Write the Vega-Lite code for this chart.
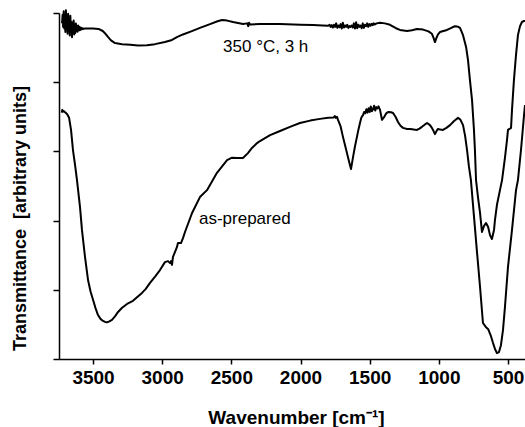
{
  "$schema": "https://vega.github.io/schema/vega-lite/v6.json",
  "width": 466,
  "height": 346,
  "autosize": {"type": "none"},
  "padding": {"left": 59, "top": 13, "right": 0, "bottom": 68},
  "background": "white",
  "config": {
    "view": {"stroke": null},
    "font": "Liberation Sans",
    "axis": {
      "domainColor": "black",
      "domainWidth": 1.5,
      "tickColor": "black",
      "tickWidth": 1.5,
      "grid": false,
      "labelFont": "Liberation Sans",
      "labelFontWeight": "bold",
      "labelFontSize": 19,
      "labelColor": "black",
      "titleFont": "Liberation Sans",
      "titleFontWeight": "bold",
      "titleFontSize": 18,
      "titleColor": "black"
    }
  },
  "datasets": {
    "spectra": [
      {"s": "350", "w": 3724, "t": 9.70}, {"s": "350", "w": 3720, "t": 9.95}, {"s": "350", "w": 3716, "t": 9.60}, {"s": "350", "w": 3712, "t": 10.05},
      {"s": "350", "w": 3708, "t": 9.55}, {"s": "350", "w": 3704, "t": 9.90}, {"s": "350", "w": 3700, "t": 9.45}, {"s": "350", "w": 3696, "t": 10.08},
      {"s": "350", "w": 3692, "t": 9.52}, {"s": "350", "w": 3688, "t": 9.85}, {"s": "350", "w": 3684, "t": 9.40}, {"s": "350", "w": 3680, "t": 9.98},
      {"s": "350", "w": 3676, "t": 9.55}, {"s": "350", "w": 3672, "t": 9.80}, {"s": "350", "w": 3668, "t": 9.35}, {"s": "350", "w": 3664, "t": 9.92},
      {"s": "350", "w": 3660, "t": 9.50}, {"s": "350", "w": 3656, "t": 9.75}, {"s": "350", "w": 3652, "t": 9.30}, {"s": "350", "w": 3648, "t": 9.70},
      {"s": "350", "w": 3644, "t": 9.45}, {"s": "350", "w": 3640, "t": 9.78}, {"s": "350", "w": 3636, "t": 9.38}, {"s": "350", "w": 3632, "t": 9.66},
      {"s": "350", "w": 3628, "t": 9.42}, {"s": "350", "w": 3624, "t": 9.70}, {"s": "350", "w": 3620, "t": 9.48}, {"s": "350", "w": 3616, "t": 9.62},
      {"s": "350", "w": 3612, "t": 9.46}, {"s": "350", "w": 3608, "t": 9.64}, {"s": "350", "w": 3604, "t": 9.50}, {"s": "350", "w": 3600, "t": 9.60},
      {"s": "350", "w": 3596, "t": 9.50}, {"s": "350", "w": 3592, "t": 9.58}, {"s": "350", "w": 3588, "t": 9.52}, {"s": "350", "w": 3584, "t": 9.57},
      {"s": "350", "w": 3580, "t": 9.53}, {"s": "350", "w": 3575, "t": 9.56}, {"s": "350", "w": 3570, "t": 9.54}, {"s": "350", "w": 3560, "t": 9.55},
      {"s": "350", "w": 3540, "t": 9.55}, {"s": "350", "w": 3500, "t": 9.55}, {"s": "350", "w": 3460, "t": 9.54}, {"s": "350", "w": 3430, "t": 9.48},
      {"s": "350", "w": 3410, "t": 9.40}, {"s": "350", "w": 3392, "t": 9.31}, {"s": "350", "w": 3370, "t": 9.21}, {"s": "350", "w": 3341, "t": 9.13},
      {"s": "350", "w": 3290, "t": 9.10}, {"s": "350", "w": 3230, "t": 9.08}, {"s": "350", "w": 3175, "t": 9.06}, {"s": "350", "w": 3110, "t": 9.07},
      {"s": "350", "w": 3052, "t": 9.10}, {"s": "350", "w": 2980, "t": 9.16}, {"s": "350", "w": 2929, "t": 9.22}, {"s": "350", "w": 2890, "t": 9.31},
      {"s": "350", "w": 2850, "t": 9.38}, {"s": "350", "w": 2790, "t": 9.47}, {"s": "350", "w": 2727, "t": 9.57}, {"s": "350", "w": 2654, "t": 9.68},
      {"s": "350", "w": 2600, "t": 9.76}, {"s": "350", "w": 2567, "t": 9.80}, {"s": "350", "w": 2530, "t": 9.78}, {"s": "350", "w": 2488, "t": 9.74},
      {"s": "350", "w": 2416, "t": 9.68}, {"s": "350", "w": 2385, "t": 9.70}, {"s": "350", "w": 2378, "t": 9.62}, {"s": "350", "w": 2372, "t": 9.72},
      {"s": "350", "w": 2365, "t": 9.67}, {"s": "350", "w": 2293, "t": 9.68}, {"s": "350", "w": 2148, "t": 9.68}, {"s": "350", "w": 2000, "t": 9.66},
      {"s": "350", "w": 1910, "t": 9.65}, {"s": "350", "w": 1840, "t": 9.64}, {"s": "350", "w": 1800, "t": 9.63},
      {"s": "350", "w": 1790, "t": 9.66}, {"s": "350", "w": 1782, "t": 9.60}, {"s": "350", "w": 1774, "t": 9.65}, {"s": "350", "w": 1766, "t": 9.58},
      {"s": "350", "w": 1758, "t": 9.66}, {"s": "350", "w": 1750, "t": 9.60}, {"s": "350", "w": 1742, "t": 9.70}, {"s": "350", "w": 1734, "t": 9.57},
      {"s": "350", "w": 1726, "t": 9.64}, {"s": "350", "w": 1718, "t": 9.59}, {"s": "350", "w": 1710, "t": 9.68}, {"s": "350", "w": 1702, "t": 9.55},
      {"s": "350", "w": 1694, "t": 9.72}, {"s": "350", "w": 1686, "t": 9.58}, {"s": "350", "w": 1678, "t": 9.64}, {"s": "350", "w": 1670, "t": 9.60},
      {"s": "350", "w": 1662, "t": 9.66}, {"s": "350", "w": 1654, "t": 9.57}, {"s": "350", "w": 1646, "t": 9.62}, {"s": "350", "w": 1638, "t": 9.60},
      {"s": "350", "w": 1630, "t": 9.64}, {"s": "350", "w": 1622, "t": 9.58}, {"s": "350", "w": 1614, "t": 9.70}, {"s": "350", "w": 1606, "t": 9.55},
      {"s": "350", "w": 1598, "t": 9.73}, {"s": "350", "w": 1590, "t": 9.56}, {"s": "350", "w": 1582, "t": 9.66}, {"s": "350", "w": 1574, "t": 9.60},
      {"s": "350", "w": 1566, "t": 9.64}, {"s": "350", "w": 1558, "t": 9.56}, {"s": "350", "w": 1550, "t": 9.70}, {"s": "350", "w": 1542, "t": 9.57},
      {"s": "350", "w": 1534, "t": 9.66}, {"s": "350", "w": 1526, "t": 9.62}, {"s": "350", "w": 1518, "t": 9.70}, {"s": "350", "w": 1510, "t": 9.60},
      {"s": "350", "w": 1502, "t": 9.68}, {"s": "350", "w": 1494, "t": 9.63}, {"s": "350", "w": 1486, "t": 9.69}, {"s": "350", "w": 1478, "t": 9.65},
      {"s": "350", "w": 1470, "t": 9.70}, {"s": "350", "w": 1462, "t": 9.67}, {"s": "350", "w": 1450, "t": 9.70}, {"s": "350", "w": 1425, "t": 9.72},
      {"s": "350", "w": 1390, "t": 9.70}, {"s": "350", "w": 1353, "t": 9.66}, {"s": "350", "w": 1310, "t": 9.56}, {"s": "350", "w": 1281, "t": 9.51},
      {"s": "350", "w": 1230, "t": 9.48}, {"s": "350", "w": 1194, "t": 9.50}, {"s": "350", "w": 1158, "t": 9.54}, {"s": "350", "w": 1114, "t": 9.52},
      {"s": "350", "w": 1075, "t": 9.47}, {"s": "350", "w": 1050, "t": 9.40}, {"s": "350", "w": 1038, "t": 9.28}, {"s": "350", "w": 1028, "t": 9.16},
      {"s": "350", "w": 1015, "t": 9.30}, {"s": "350", "w": 1006, "t": 9.38}, {"s": "350", "w": 992, "t": 9.45}, {"s": "350", "w": 941, "t": 9.51},
      {"s": "350", "w": 905, "t": 9.58}, {"s": "350", "w": 883, "t": 9.62}, {"s": "350", "w": 860, "t": 9.60}, {"s": "350", "w": 847, "t": 9.57},
      {"s": "350", "w": 825, "t": 9.36}, {"s": "350", "w": 803, "t": 9.02}, {"s": "350", "w": 789, "t": 8.64}, {"s": "350", "w": 775, "t": 8.06},
      {"s": "350", "w": 760, "t": 7.49}, {"s": "350", "w": 746, "t": 6.62}, {"s": "350", "w": 739, "t": 6.04}, {"s": "350", "w": 731, "t": 5.17},
      {"s": "350", "w": 717, "t": 4.68}, {"s": "350", "w": 702, "t": 4.22}, {"s": "350", "w": 688, "t": 3.67}, {"s": "350", "w": 674, "t": 3.84},
      {"s": "350", "w": 659, "t": 3.93}, {"s": "350", "w": 644, "t": 3.82}, {"s": "350", "w": 630, "t": 3.58}, {"s": "350", "w": 616, "t": 3.47},
      {"s": "350", "w": 601, "t": 3.73}, {"s": "350", "w": 594, "t": 4.02}, {"s": "350", "w": 580, "t": 4.45}, {"s": "350", "w": 558, "t": 4.88},
      {"s": "350", "w": 543, "t": 5.17}, {"s": "350", "w": 522, "t": 5.81}, {"s": "350", "w": 507, "t": 6.33}, {"s": "350", "w": 500, "t": 6.62},
      {"s": "350", "w": 478, "t": 6.68}, {"s": "350", "w": 471, "t": 7.20}, {"s": "350", "w": 457, "t": 8.06}, {"s": "350", "w": 442, "t": 8.79},
      {"s": "350", "w": 428, "t": 9.36}, {"s": "350", "w": 413, "t": 9.62}, {"s": "350", "w": 399, "t": 9.74}, {"s": "350", "w": 384, "t": 9.77},
      {"s": "350", "w": 377, "t": 9.77},

      {"s": "prep", "w": 3726, "t": 7.12}, {"s": "prep", "w": 3722, "t": 7.20}, {"s": "prep", "w": 3716, "t": 7.15}, {"s": "prep", "w": 3710, "t": 7.16},
      {"s": "prep", "w": 3702, "t": 7.13}, {"s": "prep", "w": 3688, "t": 7.08}, {"s": "prep", "w": 3673, "t": 6.97}, {"s": "prep", "w": 3659, "t": 6.62},
      {"s": "prep", "w": 3645, "t": 6.04}, {"s": "prep", "w": 3630, "t": 5.61}, {"s": "prep", "w": 3616, "t": 5.17}, {"s": "prep", "w": 3594, "t": 4.39},
      {"s": "prep", "w": 3580, "t": 3.73}, {"s": "prep", "w": 3558, "t": 2.95}, {"s": "prep", "w": 3536, "t": 2.28}, {"s": "prep", "w": 3518, "t": 1.95},
      {"s": "prep", "w": 3500, "t": 1.71}, {"s": "prep", "w": 3482, "t": 1.47}, {"s": "prep", "w": 3464, "t": 1.27}, {"s": "prep", "w": 3446, "t": 1.16},
      {"s": "prep", "w": 3428, "t": 1.10}, {"s": "prep", "w": 3413, "t": 1.07}, {"s": "prep", "w": 3399, "t": 1.06}, {"s": "prep", "w": 3385, "t": 1.08},
      {"s": "prep", "w": 3363, "t": 1.13}, {"s": "prep", "w": 3340, "t": 1.24}, {"s": "prep", "w": 3319, "t": 1.36}, {"s": "prep", "w": 3290, "t": 1.48},
      {"s": "prep", "w": 3254, "t": 1.59}, {"s": "prep", "w": 3211, "t": 1.68}, {"s": "prep", "w": 3180, "t": 1.79}, {"s": "prep", "w": 3146, "t": 1.91},
      {"s": "prep", "w": 3120, "t": 2.02}, {"s": "prep", "w": 3088, "t": 2.20}, {"s": "prep", "w": 3050, "t": 2.39}, {"s": "prep", "w": 3016, "t": 2.57},
      {"s": "prep", "w": 2980, "t": 2.80}, {"s": "prep", "w": 2958, "t": 2.83}, {"s": "prep", "w": 2943, "t": 2.77}, {"s": "prep", "w": 2936, "t": 2.83},
      {"s": "prep", "w": 2929, "t": 2.72}, {"s": "prep", "w": 2922, "t": 2.95}, {"s": "prep", "w": 2905, "t": 3.12}, {"s": "prep", "w": 2893, "t": 3.24},
      {"s": "prep", "w": 2886, "t": 3.35}, {"s": "prep", "w": 2864, "t": 3.35}, {"s": "prep", "w": 2849, "t": 3.50}, {"s": "prep", "w": 2835, "t": 3.67},
      {"s": "prep", "w": 2784, "t": 4.22}, {"s": "prep", "w": 2727, "t": 4.68}, {"s": "prep", "w": 2676, "t": 4.88}, {"s": "prep", "w": 2604, "t": 5.38},
      {"s": "prep", "w": 2531, "t": 5.75}, {"s": "prep", "w": 2495, "t": 5.82}, {"s": "prep", "w": 2459, "t": 5.81}, {"s": "prep", "w": 2416, "t": 5.81},
      {"s": "prep", "w": 2380, "t": 5.95}, {"s": "prep", "w": 2351, "t": 6.10}, {"s": "prep", "w": 2314, "t": 6.24}, {"s": "prep", "w": 2293, "t": 6.30},
      {"s": "prep", "w": 2220, "t": 6.47}, {"s": "prep", "w": 2148, "t": 6.59}, {"s": "prep", "w": 2076, "t": 6.71}, {"s": "prep", "w": 2004, "t": 6.82},
      {"s": "prep", "w": 1930, "t": 6.89}, {"s": "prep", "w": 1859, "t": 6.94}, {"s": "prep", "w": 1800, "t": 6.97}, {"s": "prep", "w": 1760, "t": 6.98},
      {"s": "prep", "w": 1752, "t": 7.02}, {"s": "prep", "w": 1745, "t": 6.97}, {"s": "prep", "w": 1736, "t": 7.00}, {"s": "prep", "w": 1729, "t": 6.91},
      {"s": "prep", "w": 1710, "t": 6.72}, {"s": "prep", "w": 1693, "t": 6.42}, {"s": "prep", "w": 1678, "t": 6.18}, {"s": "prep", "w": 1664, "t": 5.95},
      {"s": "prep", "w": 1650, "t": 5.72}, {"s": "prep", "w": 1635, "t": 5.49}, {"s": "prep", "w": 1620, "t": 5.84}, {"s": "prep", "w": 1606, "t": 6.15},
      {"s": "prep", "w": 1592, "t": 6.42}, {"s": "prep", "w": 1580, "t": 6.65}, {"s": "prep", "w": 1570, "t": 6.82}, {"s": "prep", "w": 1560, "t": 6.98},
      {"s": "prep", "w": 1548, "t": 7.05}, {"s": "prep", "w": 1540, "t": 7.14}, {"s": "prep", "w": 1532, "t": 7.10}, {"s": "prep", "w": 1524, "t": 7.22},
      {"s": "prep", "w": 1516, "t": 7.12}, {"s": "prep", "w": 1508, "t": 7.25}, {"s": "prep", "w": 1500, "t": 7.14}, {"s": "prep", "w": 1492, "t": 7.30},
      {"s": "prep", "w": 1484, "t": 7.16}, {"s": "prep", "w": 1476, "t": 7.22}, {"s": "prep", "w": 1468, "t": 7.32}, {"s": "prep", "w": 1460, "t": 7.18},
      {"s": "prep", "w": 1452, "t": 7.28}, {"s": "prep", "w": 1444, "t": 7.24}, {"s": "prep", "w": 1436, "t": 7.30}, {"s": "prep", "w": 1425, "t": 7.20},
      {"s": "prep", "w": 1411, "t": 6.91}, {"s": "prep", "w": 1396, "t": 6.99}, {"s": "prep", "w": 1380, "t": 7.10}, {"s": "prep", "w": 1367, "t": 7.14},
      {"s": "prep", "w": 1345, "t": 7.13}, {"s": "prep", "w": 1331, "t": 7.11}, {"s": "prep", "w": 1313, "t": 7.00}, {"s": "prep", "w": 1295, "t": 6.85},
      {"s": "prep", "w": 1277, "t": 6.74}, {"s": "prep", "w": 1259, "t": 6.68}, {"s": "prep", "w": 1230, "t": 6.65}, {"s": "prep", "w": 1208, "t": 6.65},
      {"s": "prep", "w": 1180, "t": 6.63}, {"s": "prep", "w": 1158, "t": 6.62}, {"s": "prep", "w": 1140, "t": 6.66}, {"s": "prep", "w": 1122, "t": 6.71},
      {"s": "prep", "w": 1100, "t": 6.78}, {"s": "prep", "w": 1085, "t": 6.82}, {"s": "prep", "w": 1064, "t": 6.76}, {"s": "prep", "w": 1050, "t": 6.68},
      {"s": "prep", "w": 1042, "t": 6.62}, {"s": "prep", "w": 1028, "t": 6.50}, {"s": "prep", "w": 1015, "t": 6.60}, {"s": "prep", "w": 1006, "t": 6.65},
      {"s": "prep", "w": 990, "t": 6.63}, {"s": "prep", "w": 970, "t": 6.62}, {"s": "prep", "w": 945, "t": 6.68}, {"s": "prep", "w": 919, "t": 6.76},
      {"s": "prep", "w": 890, "t": 6.88}, {"s": "prep", "w": 861, "t": 6.97}, {"s": "prep", "w": 845, "t": 6.92}, {"s": "prep", "w": 825, "t": 6.76},
      {"s": "prep", "w": 810, "t": 6.45}, {"s": "prep", "w": 796, "t": 6.04}, {"s": "prep", "w": 782, "t": 5.55}, {"s": "prep", "w": 768, "t": 5.17},
      {"s": "prep", "w": 746, "t": 4.13}, {"s": "prep", "w": 724, "t": 3.09}, {"s": "prep", "w": 702, "t": 2.08}, {"s": "prep", "w": 681, "t": 1.04},
      {"s": "prep", "w": 659, "t": 0.92}, {"s": "prep", "w": 644, "t": 0.87}, {"s": "prep", "w": 623, "t": 0.66}, {"s": "prep", "w": 608, "t": 0.46},
      {"s": "prep", "w": 594, "t": 0.29}, {"s": "prep", "w": 580, "t": 0.17}, {"s": "prep", "w": 565, "t": 0.20}, {"s": "prep", "w": 551, "t": 0.40},
      {"s": "prep", "w": 536, "t": 0.84}, {"s": "prep", "w": 522, "t": 1.50}, {"s": "prep", "w": 500, "t": 2.66}, {"s": "prep", "w": 471, "t": 3.73},
      {"s": "prep", "w": 442, "t": 4.88}, {"s": "prep", "w": 428, "t": 5.17}, {"s": "prep", "w": 406, "t": 6.04}, {"s": "prep", "w": 384, "t": 7.05},
      {"s": "prep", "w": 377, "t": 7.34}
    ],
    "notes": [
      {"w": 2560, "t": 8.87, "label": "350 °C, 3 h"},
      {"w": 2734, "t": 3.90, "label": "as-prepared"}
    ]
  },
  "layer": [
    {
      "data": {"name": "spectra"},
      "mark": {"type": "line", "color": "black", "strokeWidth": 2, "strokeJoin": "round"},
      "encoding": {
        "x": {
          "field": "w",
          "type": "quantitative",
          "scale": {"domain": [377, 3746], "reverse": true, "nice": false, "zero": false},
          "axis": {
            "title": "Wavenumber [cm⁻¹]",
            "titleFontSize": 19,
            "values": [3500, 3250, 3000, 2750, 2500, 2250, 2000, 1750, 1500, 1250, 1000, 750, 500],
            "format": "d",
            "labelExpr": "datum.value % 500 === 0 ? datum.label : ''",
            "labelOverlap": false,
            "labelFlush": false,
            "tickSize": 5,
            "labelPadding": 4,
            "titleX": 237,
            "titleY": 64,
            "titleBaseline": "alphabetic"
          }
        },
        "y": {
          "field": "t",
          "type": "quantitative",
          "scale": {"domain": [0, 10], "nice": false, "zero": false},
          "axis": {
            "title": "Transmittance \u00a0[arbitrary units]",
            "values": [0, 1, 2, 3, 4, 5, 6, 7, 8, 9, 10],
            "labels": false,
            "tickSize": 6,
            "titleX": -39,
            "titleY": 205,
            "titleAlign": "center",
            "titleBaseline": "middle",
            "titleAngle": -90
          }
        },
        "detail": {"field": "s", "type": "nominal"},
        "order": {"field": "w", "type": "quantitative", "sort": "descending"}
      }
    },
    {
      "data": {"name": "notes"},
      "mark": {"type": "text", "align": "left", "baseline": "alphabetic", "fontSize": 17, "font": "Liberation Sans", "color": "black"},
      "encoding": {
        "x": {"field": "w", "type": "quantitative"},
        "y": {"field": "t", "type": "quantitative"},
        "text": {"field": "label"}
      }
    }
  ]
}
